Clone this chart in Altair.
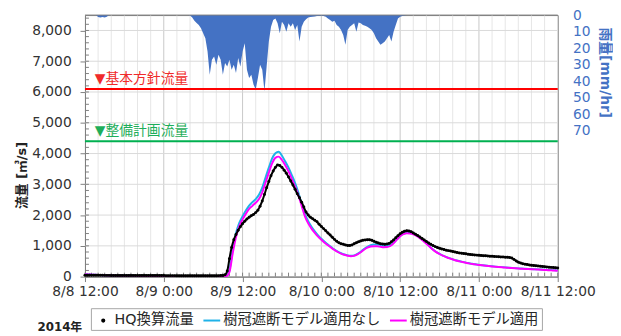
import json
import altair as alt
import pandas as pd

# ---------------- data ----------------
X_LABELS = ["8/8 12:00", "8/9 0:00", "8/9 12:00", "8/10 0:00",
            "8/10 12:00", "8/11 0:00", "8/11 12:00"]

SERIES = ["HQ換算流量", "樹冠遮断モデル適用なし", "樹冠遮断モデル適用"]
COLORS = ["#000000", "#1FB2E8", "#FF00FF"]

# HQ converted discharge, every 20 minutes from 8/8 12:00 (m3/s)
HQ = [
    45, 44, 44, 43, 43, 42, 42, 41, 41, 40, 40, 40,
    39, 39, 38, 38, 38, 37, 37, 37, 36, 36, 36, 36,
    35, 35, 35, 35, 34, 34, 34, 34, 33, 33, 33, 33,
    33, 32, 32, 32, 32, 32, 31, 31, 31, 31, 31, 31,
    30, 30, 30, 30, 30, 30, 30, 30, 30, 30, 31, 31,
    31, 32, 33, 35, 60, 180, 580, 950, 1200, 1370, 1510, 1620,
    1720, 1800, 1870, 1930, 1980, 2020, 2080, 2160, 2290, 2460, 2670, 2890,
    3090, 3280, 3430, 3550, 3625, 3610, 3550, 3460, 3360, 3240, 3110, 2980,
    2840, 2690, 2560, 2420, 2260, 2100, 2000, 1930, 1880, 1830, 1780, 1700,
    1630, 1560, 1490, 1420, 1350, 1280, 1210, 1150, 1100, 1070, 1050, 1030,
    1010, 1010, 1030, 1070, 1100, 1130, 1160, 1180, 1190, 1200, 1195, 1180,
    1150, 1120, 1090, 1070, 1060, 1055, 1060, 1080, 1130, 1190, 1260, 1330,
    1390, 1440, 1475, 1490, 1485, 1460, 1420, 1380, 1335, 1290, 1240, 1190,
    1140, 1090, 1050, 1010, 975, 945, 920, 900, 880, 860, 845, 830,
    815, 800, 785, 770, 760, 750, 740, 730, 720, 712, 705, 698,
    692, 686, 680, 675, 670, 665, 660, 655, 650, 645, 640, 636,
    632, 628, 620, 605, 560, 510, 470, 440, 420, 405, 392, 380,
    370, 362, 354, 346, 338, 330, 322, 314, 306, 300, 294, 288,
    282,
]

# model without canopy interception, every 30 minutes (m3/s)
MODEL_NO = [
    80, 72, 65, 58, 52, 47, 43, 39, 36, 33, 31, 29,
    28, 27, 26, 25, 24, 23, 22, 22, 21, 21, 20, 20,
    19, 19, 18, 18, 18, 17, 17, 17, 16, 16, 16, 16,
    16, 16, 16, 16, 16, 17, 18, 25, 200, 900, 1420, 1750,
    1960, 2150, 2310, 2420, 2520, 2660, 2890, 3220, 3540, 3840, 4010, 4060,
    3930, 3740, 3540, 3300, 3040, 2730, 2370, 2030, 1800, 1620, 1470, 1340,
    1230, 1130, 1040, 960, 880, 810, 760, 720, 690, 675, 690, 740,
    810, 900, 970, 1020, 1045, 1045, 1030, 1005, 995, 1020, 1100, 1210,
    1320, 1390, 1420, 1420, 1395, 1340, 1270, 1180, 1080, 980, 880, 800,
    740, 685, 640, 600, 565, 530, 505, 480, 455, 435, 415, 400,
    385, 372, 360, 348, 336, 325, 316, 308, 300, 292, 284, 276,
    268, 262, 256, 250, 245, 240, 235, 230, 225, 219, 213, 207,
    200,
]

# model with canopy interception, every 30 minutes (m3/s)
MODEL_YES = [
    80, 72, 65, 58, 52, 47, 43, 39, 36, 33, 31, 29,
    28, 27, 26, 25, 24, 23, 22, 22, 21, 21, 20, 20,
    19, 19, 18, 18, 18, 17, 17, 17, 16, 16, 16, 16,
    16, 16, 16, 16, 16, 17, 18, 20, 150, 760, 1290, 1640,
    1860, 2040, 2200, 2300, 2400, 2520, 2740, 3060, 3380, 3680, 3860, 3900,
    3790, 3620, 3420, 3180, 2920, 2640, 2300, 1960, 1730, 1560, 1420, 1300,
    1200, 1100, 1020, 940, 865, 800, 750, 710, 680, 665, 675, 720,
    790, 875, 940, 980, 990, 985, 970, 955, 960, 995, 1080, 1200,
    1310, 1380, 1410, 1400, 1375, 1320, 1250, 1165, 1065, 970, 875, 795,
    735, 680, 635, 595, 560, 525, 500, 475, 450, 430, 410, 395,
    380, 367, 355, 343, 331, 320, 311, 303, 295, 287, 279, 271,
    263, 257, 251, 245, 240, 235, 229, 223, 217, 210, 203, 196,
    188,
]

# rainfall (mm/hr)
RAIN_EARLY_HOURS = [1.67, 2.0, 2.33, 2.67, 3.0, 3.33, 3.67]
RAIN_EARLY = [0, 1.2, 1.5, 1.2, 1.4, 1.0, 0]
RAIN_START_HOUR = 15 + 40 / 60          # then every 20 minutes
RAIN = [
    0, 0.2, 1.5, 3.5, 4.8, 6, 8, 11, 14, 22, 36, 27,
    25, 30, 24, 27, 36, 29, 31, 27, 33, 30, 35, 26,
    31, 22, 17, 33, 38, 36, 42, 45, 38, 30, 33, 46,
    31, 16, 7, 3, 2, 5, 11, 4, 6, 10, 5, 7,
    5, 9, 6, 16, 7, 4, 2.5, 1.5, 1.2, 1, 0.8, 0.5,
    0.5, 0.3, 0.6, 1, 2, 3, 4, 3.5, 6, 7, 9, 12,
    18, 9, 7, 6, 5, 10, 4.5, 5, 6, 6.5, 7, 8,
    9, 11, 14, 16, 18, 17, 16, 14, 12, 16, 10, 6,
    2, 1, 0.5, 0.2, 0,
]

PLAN_LABELS = ["▼基本方針流量", "▼整備計画流量"]
PLAN_FLOWS = [6100, 4400]
PLAN_COLORS = ["#FF0000", "#00B050"]
PLAN_TEXT_COLORS = ["#F02A2A", "#1DAE5A"]
PLAN_LABEL_HOUR = 1.5

FLOW_MAX = 8500
FLOW_TICKS = list(range(0, 8001, 1000))
RAIN_TICKS = list(range(0, 71, 10))

# ---------------- frames ----------------
hq_df = pd.DataFrame({"hour": [i / 3 for i in range(len(HQ))], "flow": HQ,
                      "series": SERIES[0]})
no_df = pd.DataFrame({"hour": [i / 2 for i in range(len(MODEL_NO))],
                      "flow": MODEL_NO, "series": SERIES[1]})
yes_df = pd.DataFrame({"hour": [i / 2 for i in range(len(MODEL_YES))],
                       "flow": MODEL_YES, "series": SERIES[2]})
rain_df = pd.concat([
    pd.DataFrame({"hour": RAIN_EARLY_HOURS, "rain": RAIN_EARLY}),
    pd.DataFrame({"hour": [RAIN_START_HOUR + i / 3 for i in range(len(RAIN))],
                  "rain": RAIN}),
], ignore_index=True)

W, H = 479, 265
FONT = "DejaVu Sans, Noto Sans CJK JP"
AXIS_GRAY = "#7f7f7f"
LABEL = "#333333"

xscale = alt.Scale(domain=[0, 72], nice=False, zero=False)
xaxis = alt.Axis(
    values=list(range(0, 73, 12)),
    labelExpr=json.dumps(X_LABELS, ensure_ascii=False) + "[round(datum.value/12)]",
    grid=False, tickSize=5, tickColor=AXIS_GRAY, domainColor=AXIS_GRAY,
    labelFontSize=14, labelColor=LABEL, labelPadding=3, labelFont=FONT,
    labelOverlap=False, labelFlush=False,
    title="2014年", titleX=-26, titleY=55, titleBaseline="alphabetic",
    titleAlign="center", titleFontSize=12, titleFontWeight="bold",
    titleColor="#222222", titleFont=FONT,
)
X = alt.X("hour:Q", scale=xscale, axis=xaxis)

fscale = alt.Scale(domain=[0, FLOW_MAX], nice=False, zero=True)
yaxis_left = alt.Axis(
    values=FLOW_TICKS, format=",.0f", grid=False, tickSize=5,
    tickColor=AXIS_GRAY, domainColor=AXIS_GRAY, labelFontSize=14,
    labelColor=LABEL, labelPadding=9, labelFont=FONT,
    title="流量 [㎥/s]", titleFontSize=13, titleFontWeight="bold",
    titleColor="#222222", titleFont=FONT, titleX=-64, titleY=162,
    titleBaseline="middle", titleAlign="center",
)
Y_FLOW_AXIS = alt.Y("flow:Q", scale=fscale, axis=yaxis_left)
Y_FLOW = alt.Y("flow:Q", scale=fscale, axis=None)

color_scale = alt.Scale(domain=SERIES, range=COLORS)
is_hq = "datum.value === '" + SERIES[0] + "'"
legend = alt.Legend(
    title=None, orient="none", legendX=6, legendY=297,
    direction="horizontal",
    symbolType=alt.ExprRef(expr=is_hq + " ? 'circle' : 'stroke'"),
    symbolSize=alt.ExprRef(expr=is_hq + " ? 5 : 289"),
    symbolFillColor=alt.ExprRef(expr=is_hq + " ? '#000000' : 'transparent'"),
    symbolStrokeWidth=2, labelFontSize=14.5, labelFont=FONT,
    labelColor="#262626", strokeColor="#a6a6a6", padding=3,
    columnPadding=5, labelOffset=2,
)
COLOR = alt.Color("series:N", scale=color_scale, legend=legend)

# ---------------- grid layer ----------------
minor_hours = [h for h in range(2, 72, 2) if h % 12 != 0]
major_hours = [h for h in range(12, 72, 12)]

grid_minor = alt.Chart(pd.DataFrame({"hour": minor_hours})).mark_rule(
    color="#e6e6e6", strokeWidth=1).encode(x=X)
grid_major = alt.Chart(pd.DataFrame({"hour": major_hours})).mark_rule(
    color="#c8c8c8", strokeWidth=1).encode(x=X)
grid_h = alt.Chart(pd.DataFrame({"flow": FLOW_TICKS[1:]})).mark_rule(
    color="#d9d9d9", strokeWidth=1).encode(y=Y_FLOW_AXIS)
ytick_minor = alt.Chart(pd.DataFrame({"flow": list(range(0, 8401, 200))})).mark_rule(
    color=AXIS_GRAY, strokeWidth=1).encode(y=Y_FLOW_AXIS, x=alt.value(0), x2=alt.value(4))
xtick_minor = alt.Chart(pd.DataFrame({"hour": list(range(0, 73))})).mark_rule(
    color=AXIS_GRAY, strokeWidth=1).encode(x=X, y=alt.value(H - 4), y2=alt.value(H))

grid_layer = alt.layer(grid_minor, grid_major, grid_h, ytick_minor, xtick_minor)

# ---------------- rain layer ----------------
rain_layer = alt.Chart(rain_df).mark_area(color="#4472C4", opacity=1).encode(
    x=X,
    y=alt.Y("rain:Q", scale=alt.Scale(domain=[0, 158], reverse=True, nice=False),
            axis=alt.Axis(orient="right", values=RAIN_TICKS, ticks=False,
                          tickSize=0, domain=False, grid=False,
                          labelColor="#4472C4", labelFontSize=14,
                          labelPadding=15, labelFont=FONT,
                          title="雨量[mm/hr]", titleColor="#4472C4",
                          titleFontSize=14, titleFontWeight="bold",
                          titleFont=FONT, titleX=47, titleY=58,
                          titleBaseline="middle", titleAngle=90,
                          titleAlign="center")),
)

# ---------------- flow layer ----------------
plan_layers = []
for lab, fl, col, tcol in zip(PLAN_LABELS, PLAN_FLOWS, PLAN_COLORS, PLAN_TEXT_COLORS):
    d = pd.DataFrame({"hour": [PLAN_LABEL_HOUR], "flow": [fl], "label": [lab]})
    plan_layers.append(alt.Chart(d).mark_rule(color=col, strokeWidth=2).encode(y=Y_FLOW))
    plan_layers.append(alt.Chart(d).mark_text(
        align="left", baseline="bottom", dy=-3, fontSize=14, color=tcol,
        font=FONT).encode(x=X, y=Y_FLOW, text="label:N"))

top_border = alt.Chart(pd.DataFrame({"flow": [FLOW_MAX]})).mark_rule(
    color=AXIS_GRAY, strokeWidth=1).encode(y=Y_FLOW)

line_no = alt.Chart(no_df).mark_line(strokeWidth=2, interpolate="monotone").encode(
    x=X, y=Y_FLOW, color=COLOR)
line_yes = alt.Chart(yes_df).mark_line(strokeWidth=2, interpolate="monotone").encode(
    x=X, y=Y_FLOW, color=COLOR)
hq_line = alt.Chart(hq_df).mark_line(strokeWidth=2, color="#000000",
                                     interpolate="monotone").encode(
    x=X, y=Y_FLOW)
hq_pts = alt.Chart(hq_df).mark_circle(size=9, opacity=1).encode(
    x=X, y=Y_FLOW, color=COLOR)

flow_layer = alt.layer(top_border, *plan_layers, line_no, line_yes, hq_line, hq_pts)

chart = alt.layer(grid_layer, rain_layer, flow_layer).resolve_scale(
    y="independent"
).properties(
    width=W, height=H,
    autosize=alt.AutoSizeParams(type="none"),
    padding={"left": 78, "top": 5, "right": 56, "bottom": 58},
).configure(font=FONT).configure_view(stroke=AXIS_GRAY, strokeWidth=1)

chart.save("out.html", embed_options={"renderer": "svg", "actions": False})
